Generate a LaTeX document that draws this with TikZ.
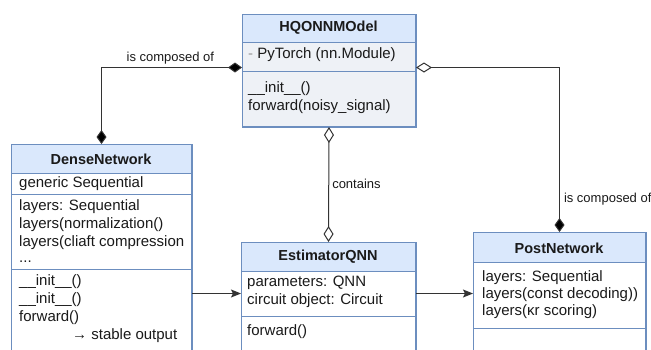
\documentclass[tikz,border=0pt]{standalone}
\usepackage{fontspec}
\setmainfont{Liberation Sans}
\usetikzlibrary{arrows.meta}
\definecolor{hdr}{HTML}{DAE8FC}
\definecolor{brd}{HTML}{6C8EBF}
\definecolor{hqbody}{HTML}{EEF1F6}
\definecolor{ln}{HTML}{333333}
\definecolor{tx}{HTML}{1A1A1A}
\tikzset{
  fdia/.tip={Diamond[length=14pt,width=10pt,fill=black]},
  odia/.tip={Diamond[open,length=16pt,width=10pt,fill=white]},
  arrtip/.tip={Stealth[length=10pt,width=8pt,inset=2pt]}
}
\begin{document}
\begin{tikzpicture}[x=1pt,y=-1pt,
  box/.style={draw=brd, line width=1pt, anchor=north west, inner sep=0pt},
  hline/.style={draw=brd, line width=1pt},
  txt/.style={anchor=west, inner sep=0pt, text height=10.5pt, text depth=3pt, font=\fontsize{15}{18}\selectfont, text=tx},
  ttl/.style={inner sep=0pt, font=\fontsize{14.5}{18}\selectfont\bfseries, text=tx},
  lbl/.style={inner sep=0pt, font=\fontsize{13}{16}\selectfont, text=tx},
  conn/.style={draw=ln, line width=1pt}
]
\clip (0,0) rectangle (651,349);
\fill[white] (0,0) rectangle (651,349);

% ---- HQONNMOdel ----
\node[box, fill=hqbody, minimum width=173pt, minimum height=112pt] (hq) at (242,14) {};
\fill[hdr] (242,14) rectangle (415,42);
\draw[hline] (242,42) -- (415,42);
\draw[hline] (242,71) -- (415,71);
\draw[brd, line width=1pt] (hq.north west) rectangle (hq.south east);
\node[ttl] (hqt) at (328.5,28) {HQONNMOdel};
\node[txt] (hq1) at (248,55) {\textcolor{black!40}{-} PyTorch (nn.Module)};
\node[txt] (hq2) at (248,89) {\_\_init\_\_()};
\node[txt] (hq3) at (248,107) {forward(noisy\_signal)};

% ---- DenseNetwork ----
\node[box, fill=white, minimum width=180pt, minimum height=208pt] (dense) at (11,144) {};
\fill[hdr] (11,144) rectangle (191,173);
\draw[hline] (11,173) -- (191,173);
\draw[hline] (11,194) -- (191,194);
\draw[hline] (11,269) -- (191,269);
\draw[brd, line width=1pt] (dense.north west) rectangle (dense.south east);
\node[ttl] (dt) at (101,159) {DenseNetwork};
\node[txt] (d1) at (19,184) {generic Sequential};
\node[txt] (d2) at (19,207) {layers: Sequential};
\node[txt] (d3) at (19,225) {layers(normalization()};
\node[txt] (d4) at (19,243) {layers(cliaft compression};
\node[txt] (d5) at (19,259) {...};
\node[txt] (d6) at (19,282) {\_\_init\_\_()};
\node[txt] (d7) at (19,300) {\_\_init\_\_()};
\node[txt] (d8) at (19,318) {forward()};
\node[txt] (d9) at (72,336) {→ stable output};

% ---- EstimatorQNN ----
\node[box, fill=white, minimum width=174pt, minimum height=110pt] (est) at (241,242) {};
\fill[hdr] (241,242) rectangle (415,271);
\draw[hline] (241,271) -- (415,271);
\draw[hline] (241,316) -- (415,316);
\draw[brd, line width=1pt] (est.north west) rectangle (est.south east);
\node[ttl] (et) at (328,257) {EstimatorQNN};
\node[txt] (e1) at (247,283) {parameters: QNN};
\node[txt] (e2) at (247,301) {circuit object: Circuit};
\node[txt] (e3) at (247,332) {forward()};

% ---- PostNetwork ----
\node[box, fill=white, minimum width=172pt, minimum height=120pt] (post) at (473,232) {};
\fill[hdr] (473,232) rectangle (645,262);
\draw[hline] (473,262) -- (645,262);
\draw[hline] (473,328) -- (645,328);
\draw[brd, line width=1pt] (post.north west) rectangle (post.south east);
\node[ttl] (pt) at (559,248) {PostNetwork};
\node[txt] (p1) at (482,278) {layers: Sequential};
\node[txt] (p2) at (482,295) {layers(const decoding))};
\node[txt] (p3) at (482,312) {layers(κr scoring)};

% ---- connectors ----
\draw[conn, fdia-fdia] ([yshift=3pt]hq.west) -| (dense.north)
  node[lbl, pos=0.255, anchor=south, yshift=3pt] (l1) {is composed of};
\draw[conn, odia-fdia] ([yshift=3pt]hq.east) -| (post.north)
  node[lbl, pos=0.9, anchor=west, xshift=4pt] (l2) {is composed of};
\draw[conn, odia-odia] (hq.south) -- (est.north)
  node[lbl, midway, anchor=west, xshift=3pt, yshift=1pt] (l3) {contains};
\draw[conn, -arrtip] ([yshift=-45pt]dense.east) -- ([yshift=4pt]est.west);
\draw[conn, -arrtip] ([yshift=4pt]est.east) -- ([yshift=-1pt]post.west);
\end{tikzpicture}
\end{document}
